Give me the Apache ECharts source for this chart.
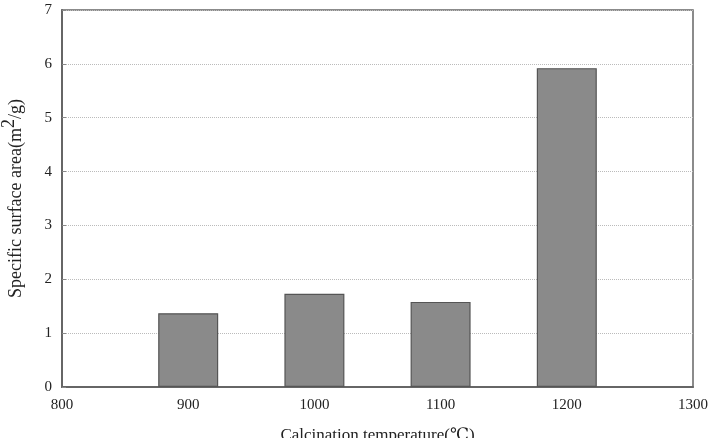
<!DOCTYPE html>
<html>
<head>
<meta charset="utf-8">
<script src="https://cdn.jsdelivr.net/npm/echarts@6/dist/echarts.min.js"></script>
<style>
  html, body {margin:0; padding:0; background:#fff;}
  #chart {width:715px; height:438px;}
</style>
</head>
<body>
<div id="chart"></div>
<script>
// 数据
var temperatures = [900, 1000, 1100, 1200];
var surfaceArea = [1.37, 1.73, 1.58, 5.92];
var xTicks = [800, 900, 1000, 1100, 1200, 1300];
var yTicks = [0, 1, 2, 3, 4, 5, 6, 7];

var serif = '"Liberation Serif", "DejaVu Serif", serif';

var barData = [];
for (var i = 0; i < temperatures.length; i++) {
    barData.push([temperatures[i], surfaceArea[i]]);
}

var option = {
    animation: false,
    grid: {left: 62, right: 22, top: 10, bottom: 51, outerBoundsMode: 'none', containLabel: false,
           show: true, borderColor: '#666', borderWidth: 1.5},
    xAxis: [{
        type: 'value',
        min: xTicks[0], max: xTicks[xTicks.length - 1], interval: 100,
        name: 'Calcination temperature(℃)',
        nameLocation: 'middle', nameGap: 40,
        nameTextStyle: {fontFamily: serif, fontSize: 17, color: '#222'},
        axisLine: {show: true, lineStyle: {color: '#666', width: 2}},
        axisTick: {show: false},
        splitLine: {show: false},
        axisLabel: {fontFamily: serif, fontSize: 15, color: '#222', margin: 11,
                    formatter: function(v){ return String(v); }}
    }],
    yAxis: [{
        type: 'value',
        min: yTicks[0], max: yTicks[yTicks.length - 1], interval: 1,
        name: 'Specific surface area(m{sup|2}/g)',
        nameLocation: 'middle', nameGap: 30,
        nameTextStyle: {fontFamily: serif, fontSize: 18, color: '#222',
            rich: {sup: {fontFamily: serif, fontSize: 18, color: '#222', verticalAlign: 'top', padding: [0, 0, 14, 0]}}},
        axisLine: {show: true, lineStyle: {color: '#666', width: 2}},
        axisTick: {show: true, inside: true, length: 4, lineStyle: {color: '#888'}},
        splitLine: {show: true, lineStyle: {type: 'dotted', color: '#bbb'}},
        axisLabel: {fontFamily: serif, fontSize: 15, color: '#222', margin: 10}
    }],
    series: [{
        type: 'bar',
        data: barData,
        barWidth: 60,
        itemStyle: {color: '#8a8a8a', borderColor: '#555', borderWidth: 1.2}
    }]
};

var chart = echarts.init(document.getElementById('chart'));
chart.setOption(option);
</script>
</body>
</html>
